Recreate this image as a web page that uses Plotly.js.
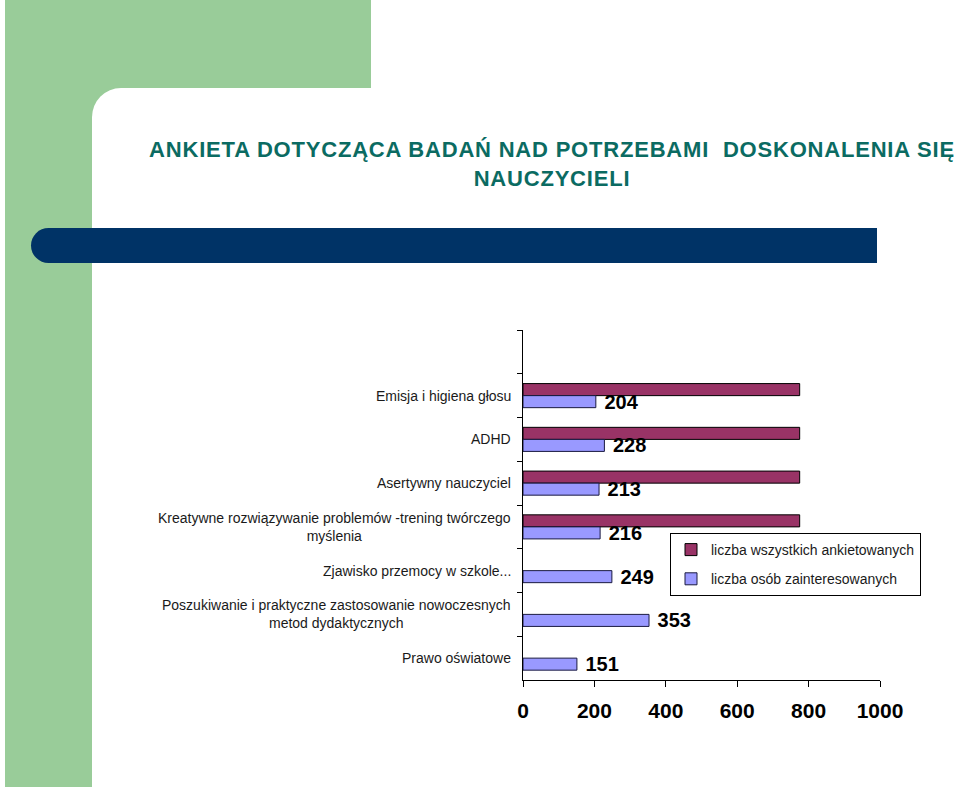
<!DOCTYPE html>
<html>
<head>
<meta charset="utf-8">
<script src="https://cdn.plot.ly/plotly-3.0.1.min.js"></script>
<style>
  html, body { margin: 0; padding: 0; background: #ffffff; }
  #stage { position: relative; width: 960px; height: 787px; overflow: hidden; background: #ffffff; }
  .deco { position: absolute; }
  #chart { position: absolute; left: 0; top: 0; width: 960px; height: 787px; }
  #chart .gtitle { letter-spacing: 0.8px; }
</style>
</head>
<body>
<div id="stage">
  <div class="deco" style="left:5px;top:0;width:366px;height:88px;background:#99cc99;"></div>
  <div class="deco" style="left:5px;top:0;width:87px;height:787px;background:#99cc99;"></div>
  <div class="deco" style="left:92px;top:80px;width:40px;height:40px;background:#99cc99;"></div>
  <div class="deco" style="left:92px;top:88px;width:900px;height:720px;background:#ffffff;border-top-left-radius:29px;"></div>
  <div class="deco" style="left:31px;top:228px;width:846px;height:35px;background:#003366;border-top-left-radius:17.5px;border-bottom-left-radius:17.5px;"></div>
  <div id="chart"></div>
</div>
<script>
// ---- data ----
const categories = [
  " ",
  "Emisja i higiena głosu",
  "ADHD",
  "Asertywny nauczyciel",
  "Kreatywne rozwiązywanie problemów -trening twórczego<br>myślenia",
  "Zjawisko przemocy w szkole...",
  "Poszukiwanie i praktyczne zastosowanie nowoczesnych<br>metod dydaktycznych",
  "Prawo oświatowe"
];
const seriesNames = ["liczba wszystkich ankietowanych", "liczba osób zainteresowanych"];
const allRespondents = [null, 775, 775, 775, 775, null, null, null];
const interested = [null, 204, 228, 213, 216, 249, 353, 151];
const xTicks = [0, 200, 400, 600, 800, 1000];
const titleText = "ANKIETA DOTYCZĄCA BADAŃ NAD POTRZEBAMI  DOSKONALENIA SIĘ<br>NAUCZYCIELI";

const FONT = "Arial, 'Liberation Sans', sans-serif";

const traces = [
  {
    type: "bar",
    orientation: "h",
    name: seriesNames[0],
    y: categories,
    x: allRespondents,
    marker: { color: "#993366", line: { color: "#000000", width: 1 } },
    legendgroup: "a",
    hoverinfo: "x"
  },
  {
    type: "bar",
    orientation: "h",
    name: seriesNames[1],
    y: categories,
    x: interested,
    text: interested.map(v => v === null ? "" : "\u00a0" + String(v)),
    textposition: "outside",
    constraintext: "none",
    cliponaxis: false,
    outsidetextfont: { family: FONT, size: 20, weight: "bold", color: "#000000" },
    marker: { color: "#9999ff", line: { color: "#1a1a40", width: 1 } },
    legendgroup: "b",
    hoverinfo: "x"
  }
];

const annotations = categories.map(c => ({
  xref: "paper", yref: "y",
  x: 0, y: c,
  xanchor: "right", yanchor: "middle",
  xshift: -10,
  align: "center",
  text: c.trim(),
  showarrow: false,
  font: { family: FONT, size: 14, color: "#1a1a1a" }
}));

const layout = {
  width: 960, height: 787,
  margin: { l: 523, r: 80, t: 330, b: 107, pad: 0 },
  paper_bgcolor: "rgba(0,0,0,0)",
  plot_bgcolor: "rgba(0,0,0,0)",
  barmode: "group",
  bargap: 0.45,
  bargroupgap: 0,
  showlegend: true,
  title: {
    text: titleText,
    xref: "container", yref: "container",
    x: 552 / 960, xanchor: "center",
    y: 1 - 157 / 787, yanchor: "top",
    font: { family: FONT, size: 22, weight: "bold", color: "#0b6b62" }
  },
  legend: {
    x: (670 - 523) / 357, xanchor: "left",
    y: (680 - 533) / 350, yanchor: "top",
    bgcolor: "#ffffff",
    bordercolor: "#000000",
    borderwidth: 1,
    traceorder: "grouped",
    tracegroupgap: 8,
    font: { family: FONT, size: 14, color: "#1a1a1a" }
  },
  xaxis: {
    range: [0, 1000],
    tickvals: xTicks,
    ticktext: xTicks.map(String),
    ticks: "outside", ticklen: 6, tickcolor: "#000000", tickwidth: 1,
    showline: true, linecolor: "#000000", linewidth: 1,
    showgrid: false, zeroline: false,
    ticklabelstandoff: 6,
    tickfont: { family: FONT, size: 21, weight: "bold", color: "#000000" },
    fixedrange: true
  },
  yaxis: {
    type: "category",
    categoryorder: "array",
    categoryarray: categories,
    range: [7.5, -0.5],
    ticks: "outside", ticklen: 5, tickcolor: "#000000", tickwidth: 1,
    tickson: "boundaries",
    showticklabels: false,
    showline: true, linecolor: "#000000", linewidth: 1,
    showgrid: false, zeroline: false,
    fixedrange: true
  },
  annotations: annotations,
  font: { family: FONT, color: "#1a1a1a" }
};

Plotly.newPlot("chart", traces, layout, { displayModeBar: false, staticPlot: true });
</script>
</body>
</html>
